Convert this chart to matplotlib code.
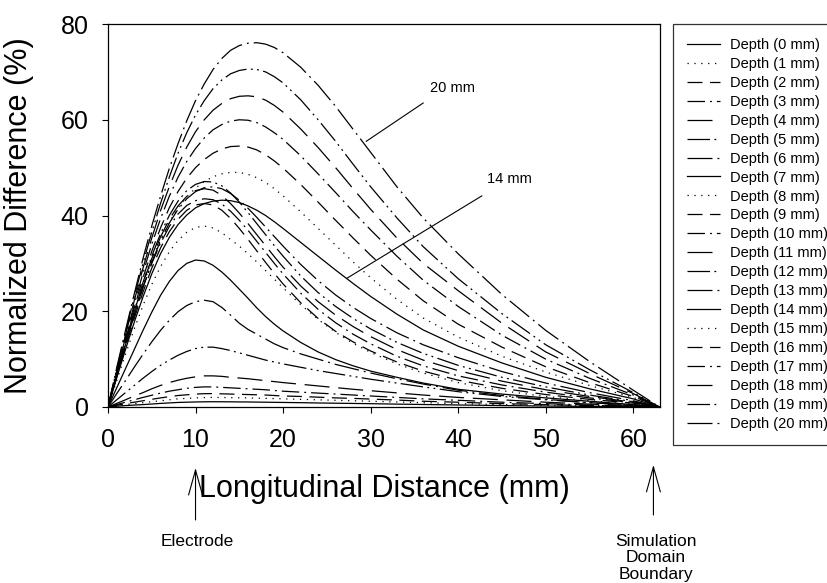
import matplotlib
matplotlib.use("Agg")
import matplotlib.pyplot as plt

plt.rcParams['font.family'] = ['Liberation Sans', 'DejaVu Sans']

# longitudinal positions (mm) at which each depth curve was read
x_mm = [0, 1, 2, 3, 4, 5, 6, 7, 8, 9, 10, 11, 12, 13, 14, 15, 16, 17, 18, 19, 20,
        22, 24, 26, 28, 30, 33, 36, 40, 45, 50, 55, 60, 63]

# normalized difference (%) for each depth
depth_0 = [0, 0.15, 0.3, 0.4, 0.5, 0.62, 0.75, 0.85, 0.95, 1.0, 1.05, 1.08, 1.1, 1.09, 1.08, 1.06, 1.05, 1.02, 1.0, 0.97, 0.95,
           0.9, 0.84, 0.79, 0.74, 0.69, 0.6, 0.52, 0.42, 0.3, 0.2, 0.12, 0.06, 0]
depth_1 = [0, 0.25, 0.5, 0.7, 0.9, 1.1, 1.3, 1.5, 1.7, 1.8, 1.9, 1.97, 2.0, 1.98, 1.95, 1.92, 1.9, 1.85, 1.8, 1.75, 1.7,
           1.6, 1.5, 1.4, 1.3, 1.2, 1.05, 0.9, 0.7, 0.5, 0.35, 0.2, 0.1, 0]
depth_2 = [0, 0.35, 0.7, 1.0, 1.3, 1.6, 1.9, 2.15, 2.4, 2.55, 2.7, 2.78, 2.8, 2.75, 2.7, 2.65, 2.6, 2.55, 2.5, 2.4, 2.3,
           2.2, 2.05, 1.9, 1.8, 1.65, 1.45, 1.2, 1.0, 0.7, 0.5, 0.3, 0.15, 0]
depth_3 = [0, 0.5, 1.0, 1.5, 2.0, 2.45, 2.9, 3.3, 3.6, 3.9, 4.1, 4.2, 4.2, 4.1, 4.0, 3.9, 3.8, 3.7, 3.6, 3.45, 3.3,
           3.1, 2.9, 2.7, 2.5, 2.3, 2.0, 1.7, 1.4, 1.0, 0.7, 0.4, 0.2, 0]
depth_4 = [0, 0.75, 1.5, 2.3, 3.0, 3.8, 4.5, 5.1, 5.6, 6.0, 6.3, 6.5, 6.5, 6.4, 6.2, 6.05, 5.9, 5.7, 5.5, 5.3, 5.1,
           4.75, 4.4, 4.05, 3.7, 3.4, 2.95, 2.5, 2.0, 1.5, 1.0, 0.6, 0.3, 0]
depth_5 = [0, 1.5, 3.0, 4.5, 6.0, 7.4, 8.7, 9.8, 10.8, 11.6, 12.2, 12.5, 12.5, 12.2, 11.8, 11.3, 10.8, 10.3, 9.8, 9.4, 9.0,
           8.3, 7.6, 7.0, 6.4, 5.8, 5.0, 4.2, 3.2, 2.2, 1.5, 0.9, 0.4, 0]
depth_6 = [0, 2.8, 5.5, 8.3, 11.0, 13.6, 16.0, 18.1, 19.9, 21.2, 22.0, 22.3, 22.0, 20.8, 19.2, 17.5, 16.2, 15.2, 14.2, 13.2, 12.4,
           11.1, 10.0, 8.9, 8.0, 7.1, 5.9, 4.8, 3.5, 2.4, 1.6, 0.9, 0.4, 0]
depth_7 = [0, 4.0, 8.0, 12.0, 16.0, 19.8, 23.3, 26.2, 28.5, 30.0, 30.7, 30.5, 29.6, 28.2, 26.5, 24.6, 22.7, 20.7, 18.9, 17.3, 15.9,
           13.5, 11.5, 9.9, 8.6, 7.5, 6.2, 5.0, 3.7, 2.7, 1.9, 1.2, 0.5, 0]
depth_8 = [0, 5.5, 11.0, 16.3, 21.2, 25.6, 29.3, 32.4, 34.8, 36.5, 37.5, 37.8, 37.4, 36.4, 35.0, 33.6, 32.0, 30.3, 28.5, 26.7, 24.9,
           21.4, 18.3, 15.6, 13.3, 11.4, 9.0, 7.1, 5.1, 3.4, 2.2, 1.3, 0.6, 0]
depth_9 = [0, 6.3, 12.5, 18.5, 24.0, 29.0, 33.2, 36.6, 39.2, 41.1, 42.2, 42.5, 42.2, 41.1, 39.4, 37.3, 35.0, 32.6, 30.2, 27.9, 25.7,
           21.8, 18.5, 15.8, 13.6, 11.7, 9.4, 7.5, 5.6, 3.9, 2.6, 1.6, 0.8, 0]
depth_10 = [0, 6.5, 13.0, 19.2, 25.0, 30.0, 34.2, 37.7, 40.3, 42.1, 43.1, 43.5, 43.3, 42.4, 40.9, 39.0, 36.9, 34.6, 32.3, 30.0, 27.8,
            23.8, 20.4, 17.6, 15.2, 13.2, 10.6, 8.6, 6.5, 4.6, 3.1, 1.9, 0.9, 0]
depth_11 = [0, 6.8, 13.5, 19.9, 25.8, 31.0, 35.5, 39.2, 42.0, 44.0, 45.2, 45.6, 45.3, 44.2, 42.5, 40.5, 38.3, 36.0, 33.7, 31.4, 29.2,
            25.3, 22.0, 19.2, 16.8, 14.7, 12.0, 9.8, 7.6, 5.4, 3.6, 2.2, 1.0, 0]
depth_12 = [0, 6.8, 13.5, 20.0, 26.0, 31.5, 36.2, 40.0, 43.0, 45.2, 46.5, 47.1, 47.0, 46.2, 44.7, 42.8, 40.6, 38.3, 36.0, 33.7, 31.5,
            27.4, 23.9, 21.0, 18.5, 16.3, 13.5, 11.2, 8.7, 6.2, 4.2, 2.5, 1.1, 0]
depth_13 = [0, 6.6, 13.0, 19.2, 25.0, 30.2, 34.7, 38.4, 41.3, 43.5, 45.0, 45.8, 46.0, 45.6, 44.6, 43.2, 41.5, 39.6, 37.6, 35.6, 33.6,
            29.8, 26.4, 23.4, 20.8, 18.5, 15.5, 13.0, 10.3, 7.4, 5.0, 3.0, 1.3, 0]
depth_14 = [0, 6.1, 12.0, 17.7, 23.0, 27.8, 32.0, 35.4, 38.1, 40.1, 41.6, 42.5, 43.0, 43.2, 43.1, 42.7, 42.0, 41.1, 40.0, 38.7, 37.3,
            34.4, 31.5, 28.6, 25.8, 23.1, 19.4, 16.1, 12.7, 9.2, 6.2, 3.8, 1.7, 0]
depth_15 = [0, 6.8, 13.5, 19.8, 25.5, 30.6, 35.0, 38.6, 41.6, 43.9, 45.7, 47.1, 48.1, 48.7, 49.0, 49.0, 48.6, 47.9, 46.9, 45.6, 44.1,
            40.8, 37.3, 33.8, 30.3, 27.0, 22.5, 18.6, 14.6, 10.6, 7.3, 4.5, 2.0, 0]
depth_16 = [0, 7.1, 14.0, 20.7, 27.0, 32.5, 37.4, 41.6, 45.0, 47.8, 50.0, 51.7, 53.0, 53.9, 54.4, 54.5, 54.3, 53.7, 52.7, 51.4, 49.9,
            46.5, 42.8, 39.0, 35.3, 31.7, 26.7, 22.2, 17.3, 12.5, 8.4, 5.1, 2.2, 0]
depth_17 = [0, 7.3, 14.5, 21.4, 28.0, 34.0, 39.3, 44.0, 48.0, 51.3, 54.0, 56.2, 57.9, 59.0, 59.7, 60.0, 59.9, 59.4, 58.5, 57.3, 55.9,
            52.5, 48.7, 44.8, 40.8, 37.0, 31.5, 26.5, 21.0, 15.0, 10.0, 6.0, 2.5, 0]
depth_18 = [0, 7.6, 15.0, 22.2, 29.0, 35.3, 41.0, 46.0, 50.5, 54.3, 57.5, 60.0, 62.0, 63.4, 64.4, 64.9, 65.0, 64.8, 64.1, 63.0, 61.6,
            58.1, 54.2, 50.0, 45.6, 41.3, 35.3, 30.0, 24.3, 17.5, 11.5, 7.0, 2.8, 0]
depth_19 = [0, 7.9, 15.5, 23.0, 30.0, 36.5, 42.5, 48.0, 53.0, 57.3, 61.0, 64.0, 66.5, 68.3, 69.6, 70.3, 70.6, 70.5, 70.0, 69.0, 67.7,
            64.2, 60.0, 55.5, 50.7, 46.0, 39.5, 33.5, 26.8, 19.5, 13.0, 7.8, 3.0, 0]
depth_20 = [0, 8.2, 16.0, 23.6, 31.0, 37.8, 44.0, 49.8, 55.0, 59.8, 64.0, 67.5, 70.5, 72.8, 74.5, 75.5, 76.0, 76.1, 75.8, 75.1, 74.0,
            71.0, 67.2, 62.8, 58.0, 53.2, 46.0, 39.5, 32.0, 23.5, 16.0, 9.5, 3.5, 0]

curves = [depth_0, depth_1, depth_2, depth_3, depth_4, depth_5, depth_6,
          depth_7, depth_8, depth_9, depth_10, depth_11, depth_12, depth_13,
          depth_14, depth_15, depth_16, depth_17, depth_18, depth_19, depth_20]
depth_labels = [f"Depth ({d} mm)" for d in range(21)]

# SigmaPlot-like line style cycle (period 7)
style_cycle = [
    '-',
    (0, (1, 4.5)),
    (0, (12, 6)),
    (0, (14, 4, 1.5, 4)),
    (0, (20, 7)),
    (0, (18, 3.5, 1.5, 3.5, 1.5, 3.5)),
    (0, (20, 4, 1.5, 4)),
]

fig = plt.figure(figsize=(8.28, 5.83), dpi=100)
ax = fig.add_axes([0.1304, 0.3019, 0.6667, 0.6569])

lines = []
for i, y in enumerate(curves):
    ln, = ax.plot(x_mm, y, color='black', lw=0.9,
                  linestyle=style_cycle[i % 7], label=depth_labels[i])
    lines.append(ln)

ax.set_xlim(0, 63.05)
ax.set_ylim(0, 80)
ax.set_xticks([0, 10, 20, 30, 40, 50, 60])
ax.set_yticks([0, 20, 40, 60, 80])
ax.tick_params(direction='out', length=4, width=0.8, labelsize=18)
ax.tick_params(axis='x', pad=11)
ax.tick_params(axis='y', pad=10)
for sp in ax.spines.values():
    sp.set_linewidth(0.9)

ax.set_xlabel("Longitudinal Distance (mm)", fontsize=22)
ax.set_ylabel("Normalized Difference (%)", fontsize=22)
ax.xaxis.set_label_coords(0.5, -0.175)
ax.yaxis.set_label_coords(-0.134, 0.5)

# pointer lines for two depths
ax.plot([36.0, 29.5], [63.5, 55.5], color='black', lw=0.8)
ax.text(39.4, 66.7, "20 mm", fontsize=10.5, ha='center', va='center')
ax.plot([42.7, 27.3], [44.1, 26.9], color='black', lw=0.8)
ax.text(45.9, 47.6, "14 mm", fontsize=10.5, ha='center', va='center')

# arrows below the axis
arrow = dict(arrowstyle='->,head_length=1.8,head_width=0.5', color='black',
             lw=0.8, shrinkA=0, shrinkB=0, mutation_scale=10)
ax.annotate('', xy=(10, -0.159), xytext=(10, -0.295),
            xycoords=('data', 'axes fraction'), textcoords=('data', 'axes fraction'),
            arrowprops=arrow, annotation_clip=False)
ax.text(10.2, -0.351, "Electrode", fontsize=12.5, ha='center', va='center',
        transform=ax.get_xaxis_transform())
ax.annotate('', xy=(62.3, -0.151), xytext=(62.3, -0.282),
            xycoords=('data', 'axes fraction'), textcoords=('data', 'axes fraction'),
            arrowprops=arrow, annotation_clip=False)
ax.text(62.6, -0.394, "Simulation\nDomain\nBoundary", fontsize=12.5,
        ha='center', va='center', linespacing=1.15,
        transform=ax.get_xaxis_transform())

leg = fig.legend(lines, depth_labels, loc='upper left',
                 bbox_to_anchor=(673 / 828, 1 - 24 / 583), borderaxespad=0,
                 fontsize=10.5, frameon=True, fancybox=False, shadow=False,
                 handlelength=2.3, handletextpad=0.65, labelspacing=0.34,
                 borderpad=0.95)
leg.get_frame().set_edgecolor('black')
leg.get_frame().set_linewidth(0.9)

fig.savefig("out.png", dpi=100)
